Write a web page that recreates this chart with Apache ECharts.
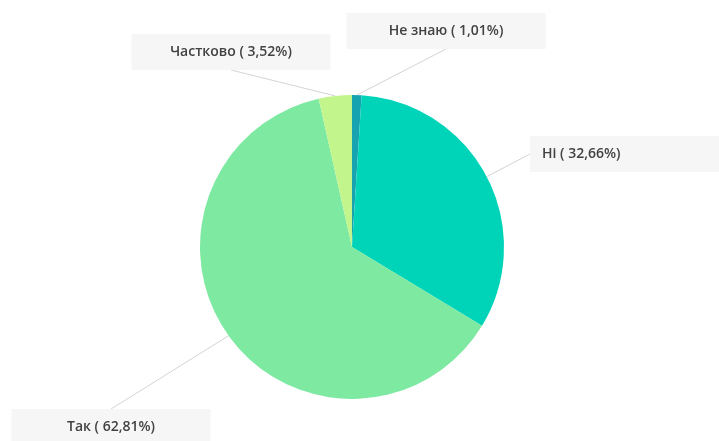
<!DOCTYPE html>
<html>
<head>
<meta charset="utf-8">
<script src="https://cdn.jsdelivr.net/npm/echarts@6/dist/echarts.min.js"></script>
<style>
  html, body { margin: 0; padding: 0; background: #ffffff; }
  #chart { width: 719px; height: 441px; }
</style>
</head>
<body>
<div id="chart"></div>
<script>
// Answer categories, clockwise from 12 o'clock
const categories = ['Не знаю', 'Н\u0456', 'Так', 'Частково'];
// Share of answers, percent
const shares = [1.01, 32.66, 62.81, 3.52];
const sliceColors = ['#17a3b0', '#00d4b8', '#7de9a1', '#c2f58b'];

// Callout box placement for each slice: [x, y, align, side the leader line meets]
const BOX_W = 199;
const BOX_H = 36;
const calloutPlacement = [
  [446, 31, 'center', 'bottom'],
  [530, 154, 'left', 'left'],
  [111, 427, 'center', 'top'],
  [231, 52, 'center', 'bottom']
];

function formatPercent(v) {
  return v.toFixed(2).replace('.', ',');
}

function lineEnd(p) {
  const [x, y, , side] = p;
  if (side === 'bottom') return [x, y + BOX_H / 2];
  if (side === 'top') return [x, y - BOX_H / 2];
  return [x, y];
}

const chart = echarts.init(document.getElementById('chart'), null, { renderer: 'canvas' });

chart.setOption({
  animation: false,
  backgroundColor: '#ffffff',
  series: [{
    type: 'pie',
    center: [352, 247],
    radius: [0, 152],
    startAngle: 90,
    clockwise: true,
    data: categories.map((name, i) => ({
      name,
      value: shares[i],
      itemStyle: { color: sliceColors[i] }
    })),
    label: {
      show: true,
      position: 'outside',
      formatter: p => p.name + ' ( ' + formatPercent(p.value) + '%)',
      color: '#424242',
      fontFamily: 'Open Sans',
      fontWeight: 600,
      fontSize: 14,
      lineHeight: 16,
      width: BOX_W - 24,
      padding: [10, 12],
      backgroundColor: '#f6f6f6'
    },
    labelLine: {
      show: true,
      length: 20,
      length2: 0,
      smooth: false,
      lineStyle: { color: '#d4d4d4', width: 1 }
    },
    labelLayout: function (params) {
      const p = calloutPlacement[params.dataIndex];
      const start = params.labelLinePoints[0];
      const end = lineEnd(p);
      return {
        x: p[0],
        y: p[1],
        align: p[2],
        verticalAlign: 'middle',
        labelLinePoints: [start, end, end]
      };
    }
  }]
});
</script>
</body>
</html>
